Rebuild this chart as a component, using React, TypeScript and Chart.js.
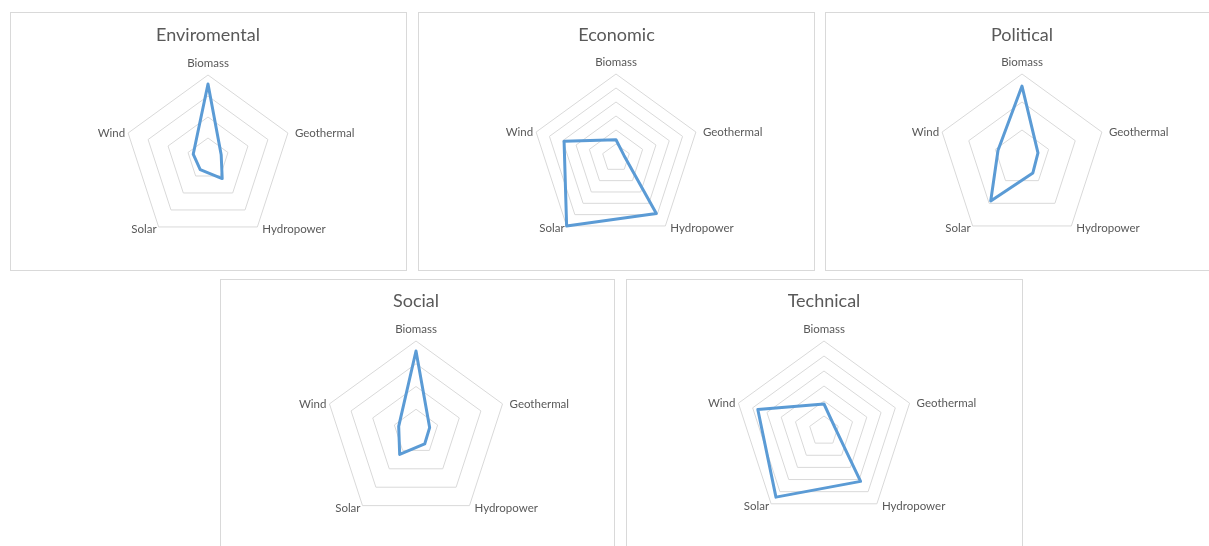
import React, { useEffect, useRef } from "react";
import { Chart, registerables } from "chart.js";

Chart.register(...registerables);

// ---- data ----
const CATEGORIES = ["Biomass", "Geothermal", "Hydropower", "Solar", "Wind"];

const TITLES = ["Enviromental", "Economic", "Political", "Social", "Technical"];

const ENVIROMENTAL = [3.57, 0.66, 1.15, 0.63, 0.74];
const ECONOMIC = [1.3, 0.6, 4.9, 6.0, 3.9];
const POLITICAL = [2.57, 0.6, 0.66, 1.9, 0.9];
const SOCIAL = [3.56, 0.63, 0.65, 1.22, 0.8];
const TECHNICAL = [1.8, 0.76, 4.15, 5.45, 4.64];

// number of grid rings on each chart (axis max, step 1)
const AXIS_MAX = [4, 6, 3, 4, 6];

const SERIES = [ENVIROMENTAL, ECONOMIC, POLITICAL, SOCIAL, TECHNICAL];

// ---- layout (page px) ----
type Panel = { left: number; top: number; w: number; h: number; cx: number; cy: number; r: number; titleY: number };
const PANELS: Panel[] = [
  { left: 10, top: 12, w: 397, h: 259, cx: 197, cy: 146, r: 84.5, titleY: 22 },
  { left: 418, top: 12, w: 397, h: 259, cx: 197.5, cy: 145.5, r: 84.5, titleY: 22 },
  { left: 825, top: 12, w: 397, h: 259, cx: 196, cy: 145.5, r: 84.5, titleY: 22 },
  { left: 220, top: 279, w: 395, h: 280, cx: 195, cy: 152.5, r: 91, titleY: 21.5 },
  { left: 626, top: 279, w: 397, h: 280, cx: 197, cy: 151.5, r: 90, titleY: 21.5 },
];

const FONT = "Lato, 'Open Sans', sans-serif";
const TEXT = "#595959";
const GRID = "#d9d9d9";
const LINE = "#5b9bd5";
const TITLE_SIZE = 18;
const TITLE_LH = 1.2;
const LABEL_SIZE = 11.5;

const pointLabelPlugin = {
  id: "excelPointLabels",
  afterDraw(chart: any) {
    const scale = chart.scales.r;
    const ctx = chart.ctx;
    const labels: string[] = chart.data.labels;
    ctx.save();
    ctx.font = `${LABEL_SIZE}px ${FONT}`;
    ctx.fillStyle = TEXT;
    ctx.textBaseline = "middle";
    labels.forEach((lab, i) => {
      const p = scale.getPointPosition(i, scale.drawingArea);
      let x = p.x;
      let y = p.y;
      if (i === 0) {
        ctx.textAlign = "center";
        y -= 12;
      } else if (i === 1) {
        ctx.textAlign = "left";
        x += 7;
      } else if (i === 2) {
        ctx.textAlign = "left";
        x += 5;
        y += 2.5;
      } else if (i === 3) {
        ctx.textAlign = "right";
        x -= 2;
        y += 2.5;
      } else {
        ctx.textAlign = "right";
        x -= 3;
      }
      ctx.fillText(lab, x, y);
    });
    ctx.restore();
  },
};

function RadarPanel({ idx }: { idx: number }) {
  const ref = useRef<HTMLCanvasElement | null>(null);
  const p = PANELS[idx];
  const W = p.w - 2;
  const H = p.h - 2;

  useEffect(() => {
    if (!ref.current) return;
    const titleLine = TITLE_SIZE * TITLE_LH;
    const titlePadTop = p.titleY - titleLine / 2;
    const areaTop = p.cy - p.r;
    const titlePadBottom = areaTop - titlePadTop - titleLine;
    const chart = new Chart(ref.current, {
      type: "radar",
      data: {
        labels: CATEGORIES,
        datasets: [
          {
            label: TITLES[idx],
            data: SERIES[idx],
            borderColor: LINE,
            backgroundColor: "transparent",
            borderWidth: 3,
            pointRadius: 0,
            pointHoverRadius: 0,
            fill: false,
            borderJoinStyle: "round",
          },
        ],
      },
      options: {
        responsive: false,
        animation: false,
        events: [],
        layout: {
          padding: {
            left: p.cx - p.r,
            right: W - p.cx - p.r,
            top: 0,
            bottom: H - (p.cy + p.r),
          },
        },
        plugins: {
          legend: { display: false },
          tooltip: { enabled: false },
          title: {
            display: true,
            text: TITLES[idx],
            color: TEXT,
            font: { family: FONT, size: TITLE_SIZE, weight: "normal", lineHeight: TITLE_LH },
            padding: { top: titlePadTop, bottom: titlePadBottom },
          },
        },
        scales: {
          r: {
            min: 0,
            max: AXIS_MAX[idx],
            ticks: { display: false, stepSize: 1 },
            grid: { color: GRID, lineWidth: 1, circular: false },
            angleLines: { display: false },
            pointLabels: { display: false },
          },
        },
      },
      plugins: [pointLabelPlugin],
    });
    return () => chart.destroy();
  }, [idx]);

  return (
    <div
      style={{
        position: "absolute",
        left: p.left,
        top: p.top,
        width: p.w,
        height: p.h,
        boxSizing: "border-box",
        border: `1px solid ${GRID}`,
        background: "#fff",
        overflow: "hidden",
      }}
    >
      <canvas ref={ref} width={W} height={H} style={{ display: "block", width: W, height: H }} />
    </div>
  );
}

export default function App() {
  return (
    <div
      style={{
        position: "absolute",
        left: 0,
        top: 0,
        width: 1209,
        height: 546,
        overflow: "hidden",
        background: "#fff",
      }}
    >
      {PANELS.map((_, i) => (
        <RadarPanel key={i} idx={i} />
      ))}
    </div>
  );
}
